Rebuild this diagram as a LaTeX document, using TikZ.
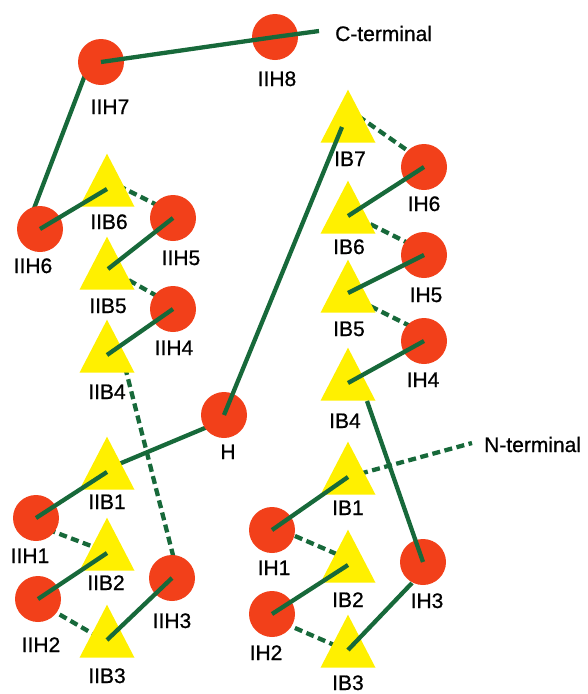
\documentclass[tikz,border=0pt]{standalone}
\usepackage{fontspec}
\setmainfont{Liberation Sans}
\newfontfamily\labfont{Liberation Sans}[FakeBold=0.8]
\usetikzlibrary{backgrounds}
\definecolor{hred}{HTML}{F2401A}
\definecolor{tyellow}{HTML}{FFF000}
\definecolor{lgreen}{HTML}{17693A}
\begin{document}
\begin{tikzpicture}[x=1pt,y=-1pt,
  link/.style={draw=lgreen, line width=4.3pt},
  hlink/.style={link, dash pattern=on 8pt off 4.5pt},
  res/.style={circle, fill=hred, minimum size=46pt, inner sep=0pt},
  lab/.style={font=\labfont\fontsize{21}{25}\selectfont, anchor=base, inner sep=0pt},
  tlab/.style={lab, anchor=base west}]
\useasboundingbox (0,0) rectangle (587,694);

% strands (triangles), named by their centroid
\foreach \n/\x/\y in {iib6/107/189, iib5/107/272, iib4/107/355,
                      iib1/107/472, iib2/107/553, iib3/107/640,
                      ib7/348/125, ib6/348/216, ib5/348/295, ib4/348/383,
                      ib1/348/477, ib2/348/565, ib3/348/650} {
  \fill[tyellow] (\x-27.5,\y+17.7) -- (\x+27.5,\y+17.7) -- (\x,\y-35.3) -- cycle;
  \coordinate (\n) at (\x,\y);
}

% helices (circles)
\node[res] (iih8) at (275,37) {};
\node[res] (iih7) at (101,62) {};
\node[res] (iih6) at (40,229) {};
\node[res] (iih5) at (173,218) {};
\node[res] (iih4) at (173,309) {};
\node[res] (h)    at (224,415) {};
\node[res] (iih1) at (36,518) {};
\node[res] (iih3) at (172,578) {};
\node[res] (iih2) at (38,599) {};
\node[res] (ih6)  at (424,167) {};
\node[res] (ih5)  at (424,255) {};
\node[res] (ih4)  at (424,341) {};
\node[res] (ih1)  at (272,530) {};
\node[res] (ih3)  at (423,562) {};
\node[res] (ih2)  at (272,614) {};

\coordinate (cend) at (319,31);
\coordinate (nend) at (472,443);

% connections passing behind the shapes
\begin{scope}[on background layer]
  \draw[link] ([shift={(-11,0)}]iih7.center) -- ([shift={(-10,-10)}]iih6.center);
  \draw[link] ([shift={(0,5)}]h.center) -- ([shift={(0,-3)}]iib1);
  \draw[hlink] ([shift={(0,-9)}]iib6) -- ([shift={(0,-5)}]iih5.center);
  \draw[hlink] ([shift={(0,-4)}]iib5) -- ([shift={(0,-4)}]iih4.center);
  \draw[hlink] ([shift={(15,0)}]iib4) -- ([shift={(3,-15)}]iih3.center);
  \draw[hlink] ([shift={(0,7)}]iih1.center) -- ([shift={(0,-1)}]iib2);
  \draw[hlink] ([shift={(0,3)}]iih2.center) -- ([shift={(0,2)}]iib3);
  \draw[hlink] ([shift={(0,-16)}]ib7) -- ([shift={(0,-5)}]ih6.center);
  \draw[hlink] ([shift={(0,-3)}]ib6) -- ([shift={(0,-4)}]ih5.center);
  \draw[hlink] (ib5) -- ([shift={(0,-8)}]ih4.center);
  \draw[hlink] (ib1) -- (nend);
  \draw[hlink] ([shift={(0,-4)}]ih1.center) -- ([shift={(0,-6)}]ib2);
  \draw[hlink] ([shift={(0,4)}]ih2.center) -- ([shift={(0,1)}]ib3);
\end{scope}

% connections drawn over the shapes
\draw[link] (iih7.center) -- (iih8.center) -- (cend);
\draw[link] (iih6.center) -- (iib6);
\draw[link] (iih5.center) -- ([shift={(1,-3)}]iib5);
\draw[link] (iih4.center) -- (iib4);
\draw[link] (h.center) -- ([shift={(-6,2)}]ib7);
\draw[link] (iib1) -- (iih1.center);
\draw[link] (iib2) -- (iih2.center);
\draw[link] (iib3) -- (iih3.center);
\draw[link] (ih6.center) -- (ib6);
\draw[link] (ih5.center) -- ([shift={(0,-2)}]ib5);
\draw[link] (ih4.center) -- (ib4);
\draw[link] ([shift={(19,18)}]ib4) -- (ih3.center);
\draw[link] (ib1) -- (ih1.center);
\draw[link] (ib2) -- (ih2.center);
\draw[link] (ib3) -- ([shift={(-11,21)}]ih3.center);

% labels
\node[tlab] (lc) at (335,41) {C-terminal};
\node[tlab] (ln) at (484,452) {N-terminal};
\node[lab] (l1)  at (277,86)  {IIH8};
\node[lab] (l2)  at (110,114) {IIH7};
\node[lab] (l3)  at (109,229) {IIB6};
\node[lab] (l4)  at (181,265) {IIH5};
\node[lab] (l5)  at (33,273)  {IIH6};
\node[lab] (l6)  at (108,313) {IIB5};
\node[lab] (l7)  at (174,355) {IIH4};
\node[lab] (l8)  at (107,399) {IIB4};
\node[lab] (l9)  at (228,459) {H};
\node[lab] (l10) at (107,509) {IIB1};
\node[lab] (l11) at (30,563)  {IIH1};
\node[lab] (l12) at (106,590) {IIB2};
\node[lab] (l13) at (172,628) {IIH3};
\node[lab] (l14) at (41,652)  {IIH2};
\node[lab] (l15) at (107,683) {IIB3};
\node[lab] (r1)  at (350,166) {IB7};
\node[lab] (r2)  at (424,211) {IH6};
\node[lab] (r3)  at (349,254) {IB6};
\node[lab] (r4)  at (426,302) {IH5};
\node[lab] (r5)  at (349,336) {IB5};
\node[lab] (r6)  at (423,387) {IH4};
\node[lab] (r7)  at (345,428) {IB4};
\node[lab] (r8)  at (348,515) {IB1};
\node[lab] (r9)  at (274,575) {IH1};
\node[lab] (r10) at (348,607) {IB2};
\node[lab] (r11) at (427,608) {IH3};
\node[lab] (r12) at (266,660) {IH2};
\node[lab] (r13) at (348,690) {IB3};
\end{tikzpicture}
\end{document}
